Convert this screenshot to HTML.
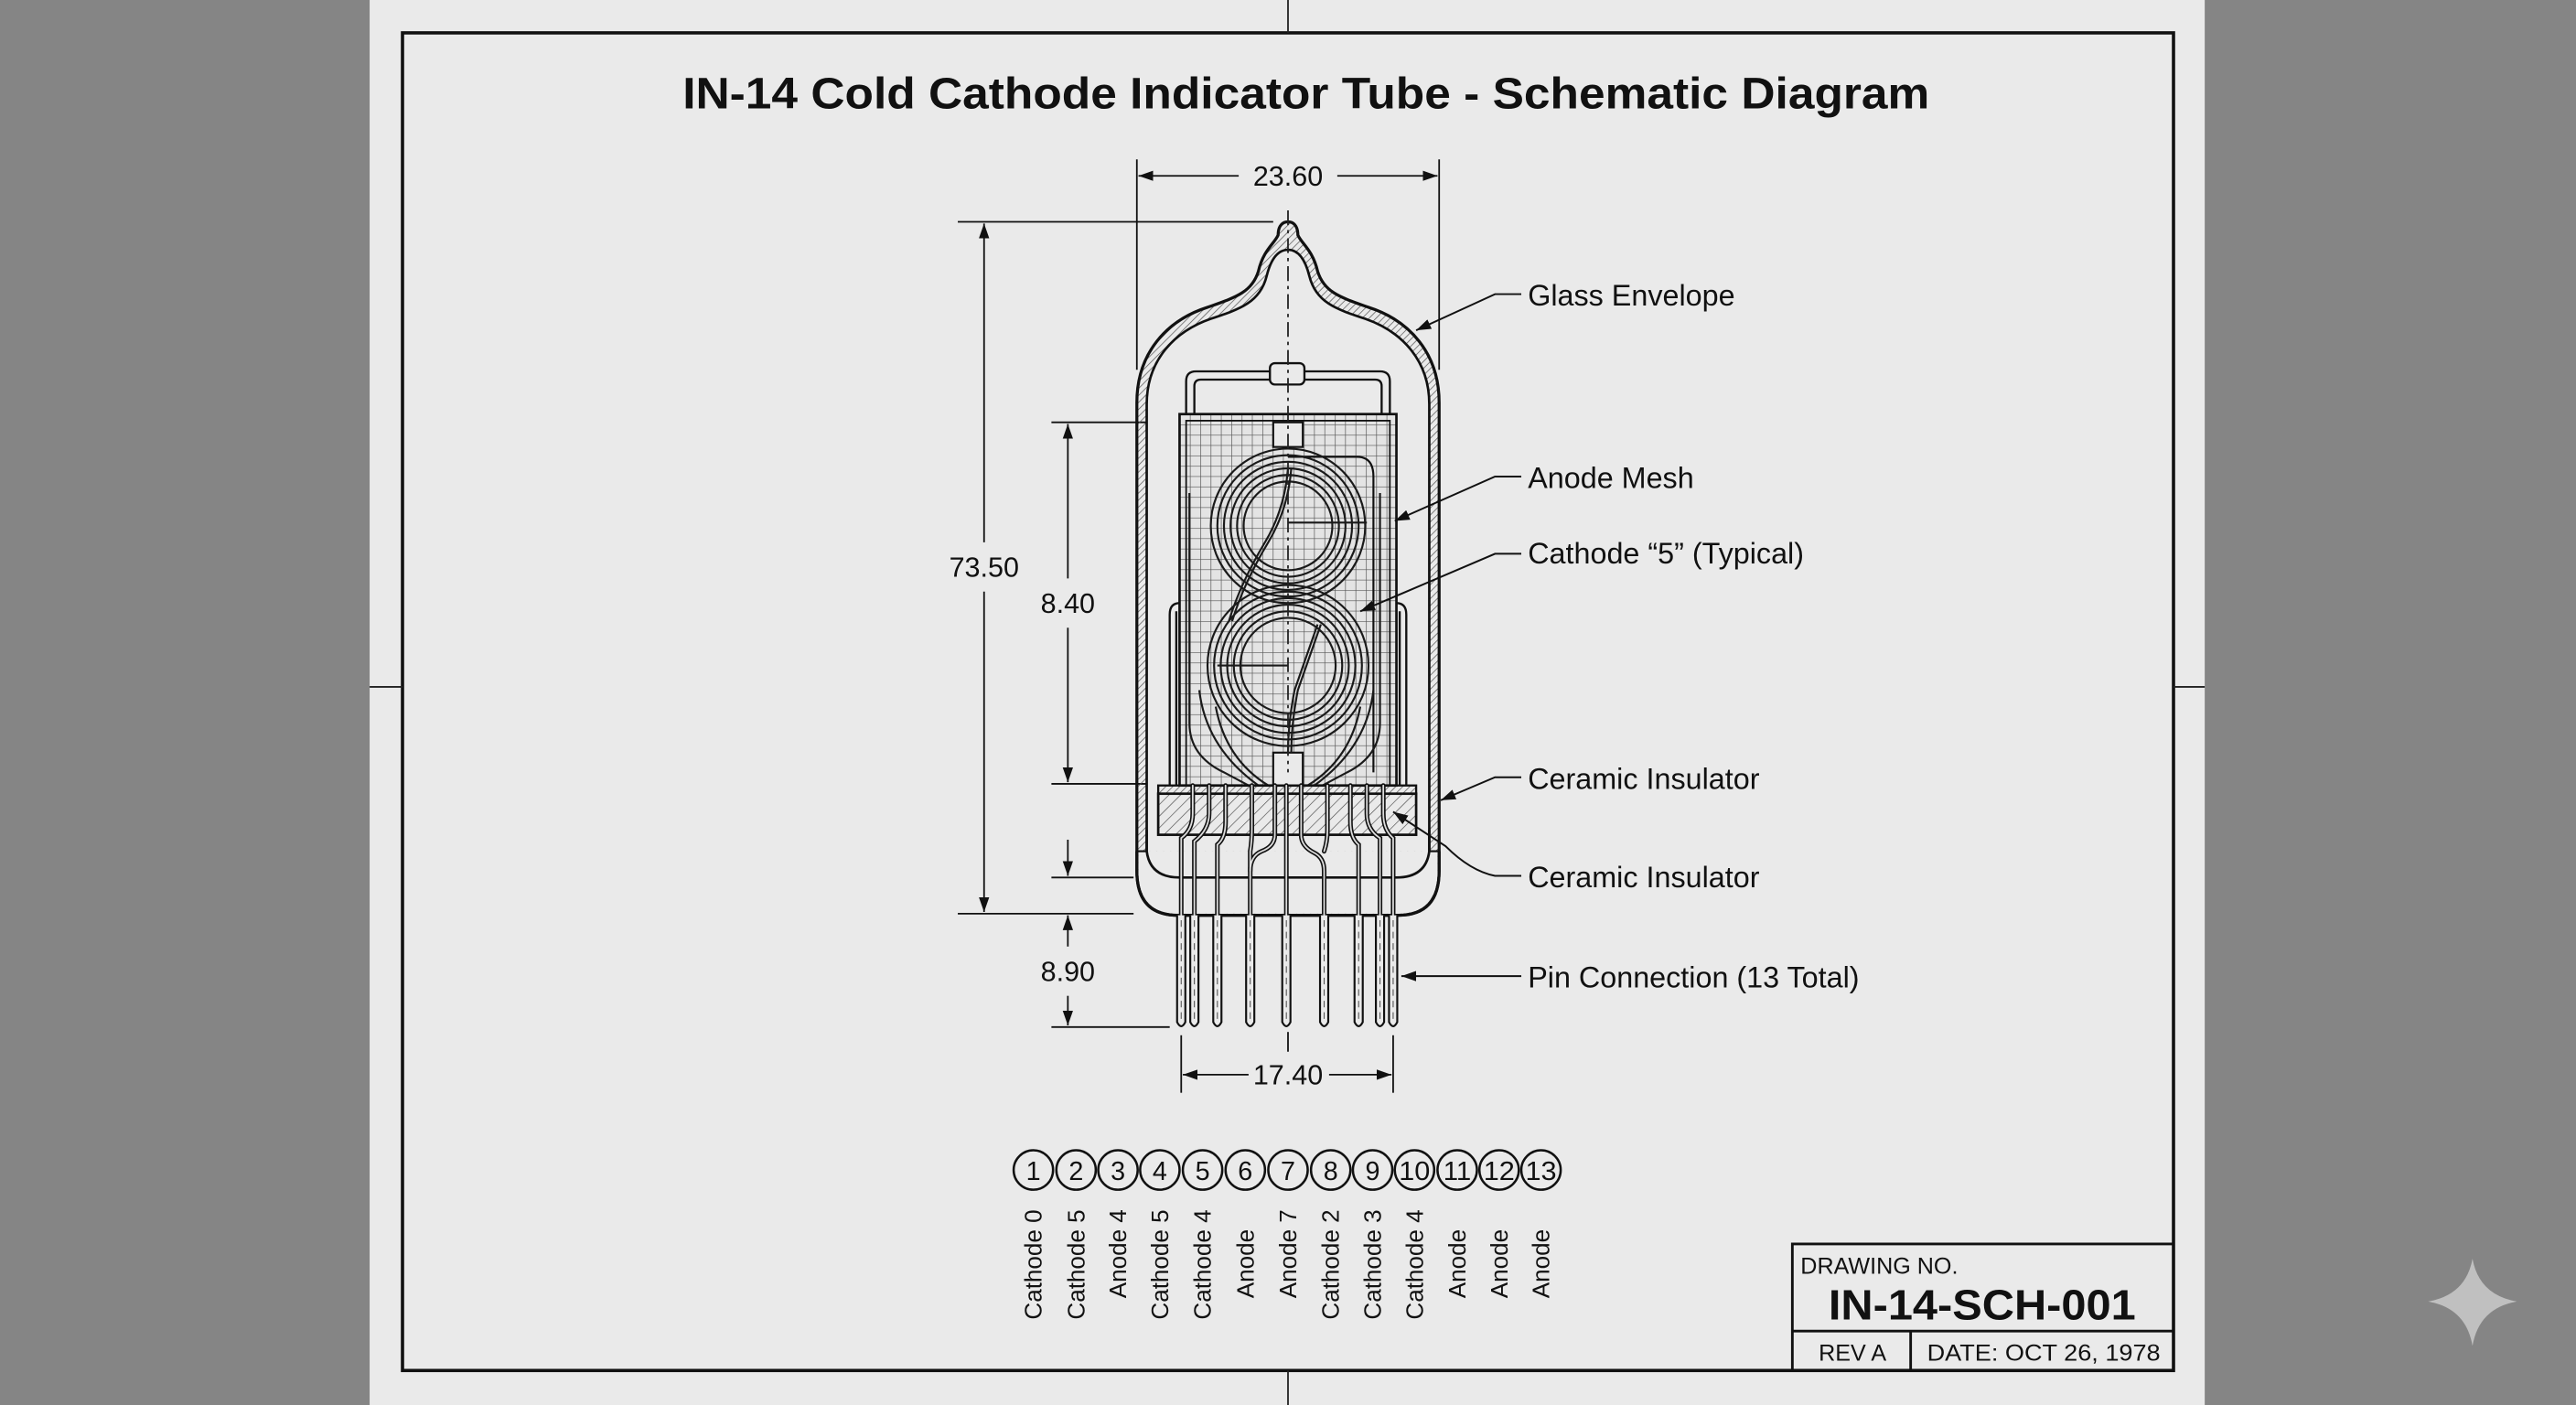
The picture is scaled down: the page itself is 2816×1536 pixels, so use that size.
<!DOCTYPE html>
<html><head><meta charset="utf-8"><style>
html,body{margin:0;padding:0;background:#858585;}
svg{display:block;}
text{font-family:"Liberation Sans",Arial,sans-serif;fill:#111;}
</style></head><body>
<svg width="2816" height="1536" viewBox="0 0 1568 855" preserveAspectRatio="none" xmlns="http://www.w3.org/2000/svg">
<defs>
<pattern id="hatch" width="3" height="3" patternUnits="userSpaceOnUse" patternTransform="rotate(45)">
<line x1="0" y1="0" x2="0" y2="3" stroke="#555" stroke-width="0.8"/></pattern>
<pattern id="hatch2" width="5" height="5" patternUnits="userSpaceOnUse" patternTransform="rotate(45)">
<line x1="0" y1="0" x2="0" y2="5" stroke="#444" stroke-width="0.7"/></pattern>
<pattern id="mesh" width="6.3" height="6.3" patternUnits="userSpaceOnUse" x="718" y="252">
<rect width="6.3" height="6.3" fill="#e4e4e4"/>
<path d="M0,0H6.3M0,0V6.3" stroke="#555" stroke-width="0.75" fill="none"/></pattern>
<marker id="ar" viewBox="0 0 10 10" refX="10" refY="5" markerWidth="9" markerHeight="9" orient="auto-start-reverse" markerUnits="userSpaceOnUse">
<path d="M0,1.5 L10,5 L0,8.5 Z" fill="#111"/></marker>
</defs>
<rect width="1568" height="855" fill="#858585"/>
<rect x="225" y="0" width="1117" height="855" fill="#eaeaea"/>
<rect x="245" y="20" width="1078" height="814" fill="none" stroke="#111" stroke-width="2"/>
<g stroke="#222" stroke-width="1">
<line x1="784" y1="0" x2="784" y2="20"/><line x1="784" y1="834" x2="784" y2="855"/>
<line x1="225" y1="418" x2="245" y2="418"/><line x1="1323" y1="418" x2="1342" y2="418"/>
</g>
<path d="M1505,766 Q1509,788 1532,792 Q1509,796 1505,819 Q1501,796 1478,792 Q1501,788 1505,766 Z" fill="#c0c0c0"/>

<text x="795" y="66" font-size="27" font-weight="bold" text-anchor="middle" textLength="759" lengthAdjust="spacingAndGlyphs">IN-14 Cold Cathode Indicator Tube - Schematic Diagram</text>

<g stroke="#111" stroke-width="1" fill="none">
<line x1="692" y1="97" x2="692" y2="225"/><line x1="876" y1="97" x2="876" y2="225"/>
<line x1="754" y1="107" x2="693" y2="107" marker-end="url(#ar)"/>
<line x1="814" y1="107" x2="875" y2="107" marker-end="url(#ar)"/>
<line x1="583" y1="135" x2="775" y2="135"/><line x1="583" y1="556" x2="690" y2="556"/>
<line x1="599" y1="330" x2="599" y2="136" marker-end="url(#ar)"/>
<line x1="599" y1="360" x2="599" y2="555" marker-end="url(#ar)"/>
<line x1="640" y1="257" x2="720" y2="257"/><line x1="640" y1="477" x2="705" y2="477"/>
<line x1="650" y1="352" x2="650" y2="258" marker-end="url(#ar)"/>
<line x1="650" y1="382" x2="650" y2="476" marker-end="url(#ar)"/>
<line x1="640" y1="534" x2="690" y2="534"/>
<line x1="650" y1="511" x2="650" y2="533" marker-end="url(#ar)"/>
<line x1="650" y1="576" x2="650" y2="557" marker-end="url(#ar)"/>
<line x1="650" y1="606" x2="650" y2="624" marker-end="url(#ar)"/>
<line x1="640" y1="625" x2="712" y2="625"/>
<line x1="719" y1="630" x2="719" y2="665"/><line x1="848" y1="630" x2="848" y2="665"/>
<line x1="760" y1="654" x2="720" y2="654" marker-end="url(#ar)"/>
<line x1="809" y1="654" x2="847" y2="654" marker-end="url(#ar)"/>
<line x1="784" y1="628" x2="784" y2="640"/>
</g>
<g font-size="17" text-anchor="middle">
<text x="784" y="113">23.60</text>
<text x="599" y="351">73.50</text>
<text x="650" y="373">8.40</text>
<text x="650" y="597">8.90</text>
<text x="784" y="660">17.40</text>
</g>

<!-- glass envelope -->
<path d="M692,530 L692,245 C692,215 710,195 735,187 C752,181 762,178 766,165 C769,152 776,148 778,143 C778,137 781,135 784,135 C787,135 790,137 790,143 C792,148 799,152 802,165 C806,178 816,181 833,187 C858,195 876,215 876,245 L876,530 Q876,557 851,557 L717,557 Q692,557 692,530 Z" fill="url(#hatch)" stroke="#111" stroke-width="1.8"/>
<path d="M693,518 L693,530 Q693,556 717,556 L851,556 Q875,556 875,530 L875,518 Z" fill="#eaeaea"/>
<path d="M692,518 L692,530 Q692,557 717,557 L851,557 Q876,557 876,530 L876,518" fill="none" stroke="#111" stroke-width="1.8"/>
<line x1="692" y1="518" x2="698" y2="518" stroke="#111" stroke-width="1.2"/>
<line x1="870" y1="518" x2="876" y2="518" stroke="#111" stroke-width="1.2"/>
<path d="M698,518 L698,246 C698,220 714,202 737,194 C755,188 767,184 771,168 C774,156 779,152 784,152 C789,152 794,156 797,168 C801,184 813,188 831,194 C854,202 870,220 870,246 L870,518" fill="#eaeaea" stroke="#111" stroke-width="1.5"/>
<path d="M698,505 L698,518 Q700,534 718,534 L850,534 Q868,534 870,518 L870,505" fill="none" stroke="#111" stroke-width="1.5"/>

<g fill="none" stroke="#111" stroke-width="1.3">
<path d="M722,254 L722,232 Q722,226 728,226 L840,226 Q846,226 846,232 L846,254"/>
<path d="M727,254 L727,235 Q727,231 731,231 L837,231 Q841,231 841,235 L841,254"/>
</g>
<rect x="773" y="221" width="21" height="13" rx="3" fill="#eaeaea" stroke="#111" stroke-width="1.3"/>

<g fill="none" stroke="#111" stroke-width="1.3">
<path d="M712,478 L712,374 Q712,367 718,367"/><path d="M716,478 L716,372"/>
<path d="M856,478 L856,374 Q856,367 850,367"/><path d="M852,478 L852,372"/>
</g>

<rect x="718" y="252" width="132" height="226" fill="url(#mesh)" stroke="#111" stroke-width="1.5"/>
<rect x="722" y="256" width="124" height="222" fill="none" stroke="#111" stroke-width="1"/>
<rect x="775" y="257" width="18" height="15" fill="#eaeaea" stroke="#111" stroke-width="1.2"/>
<rect x="775" y="458" width="18" height="20" fill="#eaeaea" stroke="#111" stroke-width="1.2"/>
<path d="M784,278 L826,278 Q836,278 836,290 L836,470" fill="none" stroke="#111" stroke-width="1.2"/>

<g fill="none" stroke="#1a1a1a" stroke-width="1.2">
<circle cx="784" cy="320" r="27"/><circle cx="784" cy="320" r="31"/><circle cx="784" cy="320" r="35"/>
<circle cx="784" cy="320" r="39"/><circle cx="784" cy="320" r="43"/><circle cx="784" cy="320" r="47"/>
<circle cx="784" cy="405" r="29"/><circle cx="784" cy="405" r="33"/><circle cx="784" cy="405" r="37"/>
<circle cx="784" cy="405" r="41"/><circle cx="784" cy="405" r="45"/><circle cx="784" cy="405" r="49"/>
<path d="M784,285 Q782,310 770,330 Q755,355 748,378"/><path d="M786,285 Q784,310 772,330 Q757,355 750,378"/>
<path d="M802,380 Q795,400 788,420 Q784,440 784,458"/><path d="M804,380 Q797,400 790,420 Q786,440 786,458"/>
<line x1="741" y1="405" x2="784" y2="405"/>
<line x1="784" y1="318" x2="832" y2="318"/>
<path d="M724,300 L724,440 Q724,460 745,470 L760,478"/>
<path d="M730,420 Q734,455 766,478"/>
<path d="M740,430 Q746,462 772,478"/>
<path d="M840,300 L840,440 Q840,460 820,470 L805,478"/>
<path d="M836,420 Q832,455 800,478"/>
<path d="M828,430 Q822,462 796,478"/>
</g>
<line x1="784" y1="128" x2="784" y2="470" stroke="#222" stroke-width="1" stroke-dasharray="9,3,2,3"/>

<rect x="705" y="478" width="157" height="5" fill="url(#hatch)" stroke="#111" stroke-width="1.3"/>
<rect x="705" y="483" width="157" height="25" fill="url(#hatch2)" stroke="#111" stroke-width="1.5"/>

<g fill="none" stroke-linecap="round">
<g stroke="#111" stroke-width="2.8">
<path d="M726,478 L726,495 Q726,505 719,510 L719,557"/>
<path d="M736,478 L736,495 Q736,505 727,512 L727,557"/>
<path d="M746,478 L746,500 Q746,510 741,514 L741,557"/>
<path d="M762,478 L762,505 Q762,512 761,518 L761,557"/>
<path d="M776,478 L776,508 Q776,515 768,518 Q761,521 761,530"/>
<path d="M783,478 L783,557"/>
<path d="M792,478 L792,508 Q792,515 800,519 Q806,522 806,530 L806,557"/>
<path d="M808,478 L808,505 Q808,512 806,518"/>
<path d="M822,478 L822,500 Q822,510 827,514 L827,557"/>
<path d="M832,478 L832,495 Q832,505 840,510 L840,557"/>
<path d="M842,478 L842,495 Q842,505 848,510 L848,557"/>
</g>
<g stroke="#dcdcdc" stroke-width="1">
<path d="M726,478 L726,495 Q726,505 719,510 L719,557"/>
<path d="M736,478 L736,495 Q736,505 727,512 L727,557"/>
<path d="M746,478 L746,500 Q746,510 741,514 L741,557"/>
<path d="M762,478 L762,505 Q762,512 761,518 L761,557"/>
<path d="M776,478 L776,508 Q776,515 768,518 Q761,521 761,530"/>
<path d="M783,478 L783,557"/>
<path d="M792,478 L792,508 Q792,515 800,519 Q806,522 806,530 L806,557"/>
<path d="M808,478 L808,505 Q808,512 806,518"/>
<path d="M822,478 L822,500 Q822,510 827,514 L827,557"/>
<path d="M832,478 L832,495 Q832,505 840,510 L840,557"/>
<path d="M842,478 L842,495 Q842,505 848,510 L848,557"/>
</g>
</g>

<g fill="#eaeaea" stroke="#111" stroke-width="1.2">
<path d="M716.5,557 L716.5,622 Q719,627 721.5,622 L721.5,557"/>
<path d="M724.5,557 L724.5,622 Q727,627 729.5,622 L729.5,557"/>
<path d="M738.5,557 L738.5,622 Q741,627 743.5,622 L743.5,557"/>
<path d="M758.5,557 L758.5,622 Q761,627 763.5,622 L763.5,557"/>
<path d="M780.5,557 L780.5,622 Q783,627 785.5,622 L785.5,557"/>
<path d="M803.5,557 L803.5,622 Q806,627 808.5,622 L808.5,557"/>
<path d="M824.5,557 L824.5,622 Q827,627 829.5,622 L829.5,557"/>
<path d="M837.5,557 L837.5,622 Q840,627 842.5,622 L842.5,557"/>
<path d="M845.5,557 L845.5,622 Q848,627 850.5,622 L850.5,557"/>
</g>
<g stroke="#555" stroke-width="0.6" stroke-dasharray="4,3">
<line x1="719" y1="560" x2="719" y2="620"/><line x1="727" y1="560" x2="727" y2="620"/><line x1="741" y1="560" x2="741" y2="620"/>
<line x1="761" y1="560" x2="761" y2="620"/><line x1="783" y1="560" x2="783" y2="620"/><line x1="806" y1="560" x2="806" y2="620"/>
<line x1="827" y1="560" x2="827" y2="620"/><line x1="840" y1="560" x2="840" y2="620"/><line x1="848" y1="560" x2="848" y2="620"/>
</g>

<g fill="none" stroke="#111" stroke-width="1.1">
<path d="M926,179 L910,179 L862,201" marker-end="url(#ar)"/>
<path d="M926,290 L910,290 L849,317" marker-end="url(#ar)"/>
<path d="M926,337 L910,337 L828,372" marker-end="url(#ar)"/>
<path d="M926,473 L910,473 L877,487" marker-end="url(#ar)"/>
<path d="M926,533 L910,533 Q895,530 880,515 L848,494" marker-end="url(#ar)"/>
<path d="M926,594 L853,594" marker-end="url(#ar)"/>
</g>
<g font-size="18">
<text x="930" y="186">Glass Envelope</text>
<text x="930" y="297">Anode Mesh</text>
<text x="930" y="343">Cathode “5” (Typical)</text>
<text x="930" y="480">Ceramic Insulator</text>
<text x="930" y="540">Ceramic Insulator</text>
<text x="930" y="601">Pin Connection (13 Total)</text>
</g>

<g fill="none" stroke="#111" stroke-width="1.4">
<circle cx="629" cy="712" r="12"/><circle cx="655" cy="712" r="12"/><circle cx="680.5" cy="712" r="12"/>
<circle cx="706" cy="712" r="12"/><circle cx="732" cy="712" r="12"/><circle cx="758" cy="712" r="12"/>
<circle cx="784" cy="712" r="12"/><circle cx="810" cy="712" r="12"/><circle cx="835.5" cy="712" r="12"/>
<circle cx="861" cy="712" r="12"/><circle cx="887" cy="712" r="12"/><circle cx="912.5" cy="712" r="12"/>
<circle cx="938" cy="712" r="12"/>
</g>
<g font-size="16" text-anchor="middle">
<text x="629" y="718">1</text><text x="655" y="718">2</text><text x="680.5" y="718">3</text><text x="706" y="718">4</text>
<text x="732" y="718">5</text><text x="758" y="718">6</text><text x="784" y="718">7</text><text x="810" y="718">8</text>
<text x="835.5" y="718">9</text><text x="861" y="718" textLength="19" lengthAdjust="spacingAndGlyphs">10</text>
<text x="887" y="718" textLength="17" lengthAdjust="spacingAndGlyphs">11</text>
<text x="912.5" y="718" textLength="19" lengthAdjust="spacingAndGlyphs">12</text>
<text x="938" y="718" textLength="19" lengthAdjust="spacingAndGlyphs">13</text>
</g>
<g font-size="14.5">
<text transform="translate(634,803) rotate(-90)">Cathode 0</text>
<text transform="translate(660,803) rotate(-90)">Cathode 5</text>
<text transform="translate(685.5,790) rotate(-90)">Anode 4</text>
<text transform="translate(711,803) rotate(-90)">Cathode 5</text>
<text transform="translate(737,803) rotate(-90)">Cathode 4</text>
<text transform="translate(763,790) rotate(-90)">Anode</text>
<text transform="translate(789,790) rotate(-90)">Anode 7</text>
<text transform="translate(815,803) rotate(-90)">Cathode 2</text>
<text transform="translate(840.5,803) rotate(-90)">Cathode 3</text>
<text transform="translate(866,803) rotate(-90)">Cathode 4</text>
<text transform="translate(892,790) rotate(-90)">Anode</text>
<text transform="translate(917.5,790) rotate(-90)">Anode</text>
<text transform="translate(943,790) rotate(-90)">Anode</text>
</g>

<g fill="none" stroke="#111" stroke-width="1.6">
<rect x="1091" y="757" width="232" height="77"/>
<line x1="1091" y1="810" x2="1323" y2="810"/>
<line x1="1163" y1="810" x2="1163" y2="834"/>
</g>
<text x="1096" y="775" font-size="14">DRAWING NO.</text>
<text x="1113" y="803" font-size="26" font-weight="bold" textLength="187" lengthAdjust="spacingAndGlyphs">IN-14-SCH-001</text>
<text x="1107" y="828" font-size="14">REV A</text>
<text x="1173" y="828" font-size="14" textLength="142" lengthAdjust="spacingAndGlyphs">DATE: OCT 26, 1978</text>
</svg>
</body></html>
